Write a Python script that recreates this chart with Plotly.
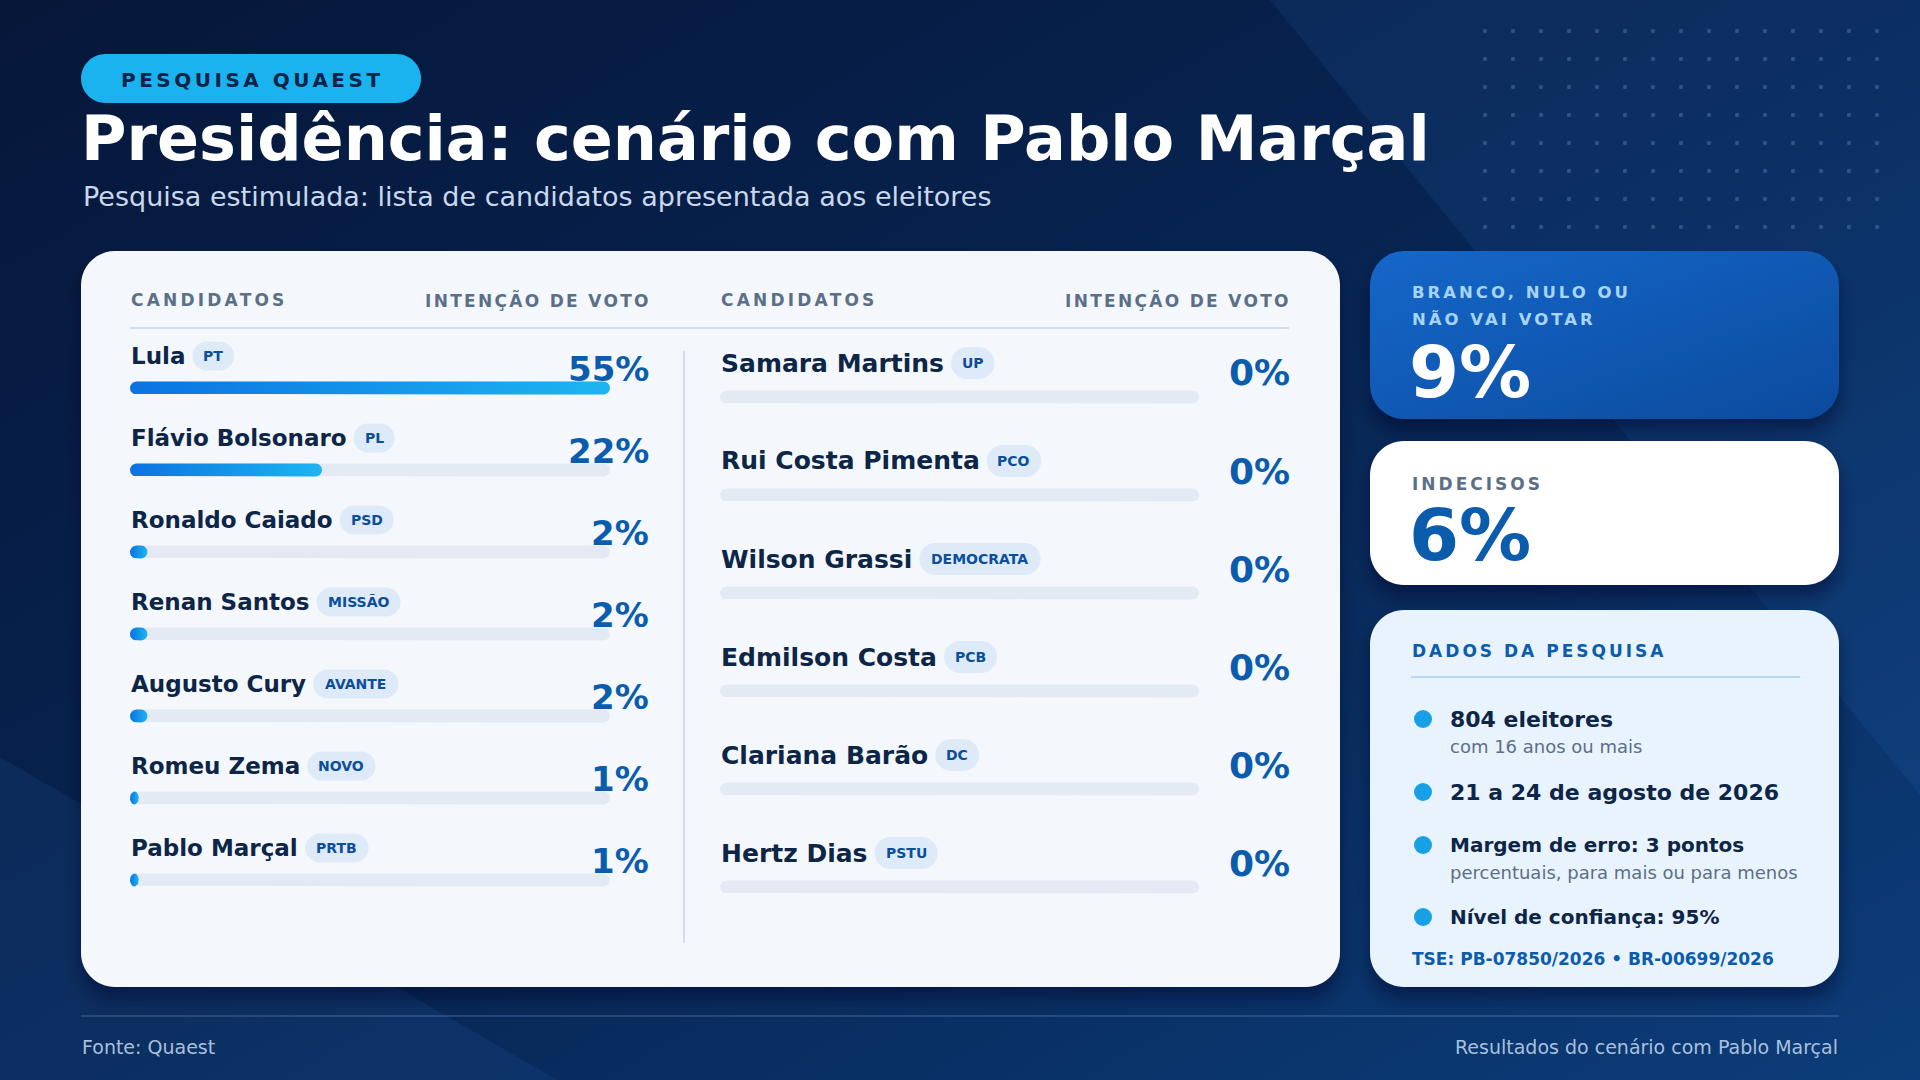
import base64
import unicodedata
import numpy as np
import plotly.graph_objects as go

W, H = 1920, 1080
FONTE = "DejaVu Sans"

# ---- dados da pesquisa ----
candidatos_esq = ["Lula", "Flávio Bolsonaro", "Ronaldo Caiado", "Renan Santos",
                  "Augusto Cury", "Romeu Zema", "Pablo Marçal"]
partidos_esq = ["PT", "PL", "PSD", "MISSÃO", "AVANTE", "NOVO", "PRTB"]
votos_esq = [55, 22, 2, 2, 2, 1, 1]

candidatos_dir = ["Samara Martins", "Rui Costa Pimenta", "Wilson Grassi",
                  "Edmilson Costa", "Clariana Barão", "Hertz Dias"]
partidos_dir = ["UP", "PCO", "DEMOCRATA", "PCB", "DC", "PSTU"]
votos_dir = [0, 0, 0, 0, 0, 0]

branco_nulo = 9
indecisos = 6

dados_titulo = ["804 eleitores", "21 a 24 de agosto de 2026",
                "Margem de erro: 3 pontos", "Nível de confiança: 95%"]
dados_sub = ["com 16 anos ou mais", "", "percentuais, para mais ou para menos", ""]
registro_tse = "TSE: PB-07850/2026 • BR-00699/2026"

# ---- cores ----
AZUL_ESCURO = "#0d2547"
AZUL_NUM = "#0b5cad"
CINZA = "#5b6f88"
TRILHA = "#e3eaf3"
GRADIENTE = [[0, "#0b73e1"], [1, "#1db5f1"]]
PILULA = "#dfeaf8"
PILULA_TXT = "#0b4e9a"

# larguras aproximadas da DejaVu Sans Bold (em)
LARG = dict(zip("abcdefghijklmnopqrstuvwxyz",
                [.675, .716, .593, .716, .678, .435, .716, .712, .343, .343, .665, .343, 1.042,
                 .712, .687, .716, .716, .493, .595, .478, .712, .652, .924, .645, .652, .582]))
LARG.update(zip("ABCDEFGHIJKLMNOPQRSTUVWXYZ",
                [.774, .762, .734, .830, .683, .683, .821, .837, .372, .372, .775, .637, .995,
                 .837, .850, .733, .850, .770, .720, .682, .812, .774, 1.103, .771, .724, .725]))
LARG[" "] = .348


def largura(s, tam):
    return sum(LARG.get(unicodedata.normalize("NFD", c)[0], .7) for c in s) * tam


def X(x):
    return x / W


def Y(y):
    return 1 - y / H


def caixa(x0, y0, x1, y1, r):
    k = 0.5523 * r
    pts = [("M", x0 + r, y0), ("L", x1 - r, y0),
           ("C", x1 - r + k, y0, x1, y0 + r - k, x1, y0 + r), ("L", x1, y1 - r),
           ("C", x1, y1 - r + k, x1 - r + k, y1, x1 - r, y1), ("L", x0 + r, y1),
           ("C", x0 + r - k, y1, x0, y1 - r + k, x0, y1 - r), ("L", x0, y0 + r),
           ("C", x0, y0 + r - k, x0 + r - k, y0, x0 + r, y0)]
    out = ""
    for p in pts:
        nums = p[1:]
        coords = " ".join(f"{X(nums[i]):.5f},{Y(nums[i + 1]):.5f}" for i in range(0, len(nums), 2))
        out += p[0] + coords + " "
    return out + "Z"


shapes = []
anns = []


def ret(x0, y0, x1, y1, r, cor):
    shapes.append(dict(type="path", path=caixa(x0, y0, x1, y1, r), xref="paper", yref="paper",
                       fillcolor=cor, line=dict(width=0), layer="below"))


def linha(x0, y0, x1, y1, cor, w=2):
    shapes.append(dict(type="line", x0=X(x0), y0=Y(y0), x1=X(x1), y1=Y(y1), xref="paper",
                       yref="paper", line=dict(color=cor, width=w), layer="below"))


def texto(x, y, s, tam, cor, negrito=False, ancora="left", espaco=None):
    if espaco:
        s = f"<span style='letter-spacing:{espaco}px'>{s}</span>"
    anns.append(dict(x=X(x), y=Y(y), xref="paper", yref="paper", text=s, showarrow=False,
                     xanchor=ancora, yanchor="middle", borderpad=0,
                     font=dict(family=FONTE, size=tam, color=cor, weight=700 if negrito else 400)))


# ---- fundo (gradiente, faixas, pontos, sombras) ----
pontos = "".join(f"<circle cx='{1485 + 28 * c}' cy='{31 + 28 * r}' r='2.2'/>"
                 for c in range(15) for r in range(8))
sombras = "".join(f"<rect x='{a}' y='{b + 12}' width='{c - a}' height='{d - b}' rx='34'/>"
                  for a, b, c, d in [(81, 251, 1340, 987), (1370, 251, 1839, 419),
                                     (1370, 441, 1839, 585), (1370, 610, 1839, 987)])
svg = f"""<svg xmlns='http://www.w3.org/2000/svg' width='{W}' height='{H}' viewBox='0 0 {W} {H}'>
<defs>
<linearGradient id='bg' x1='0' y1='0' x2='1' y2='1'>
<stop offset='0' stop-color='#06173a'/><stop offset='0.5' stop-color='#072553'/>
<stop offset='1' stop-color='#0c3d7a'/></linearGradient>
<linearGradient id='c1' x1='0' y1='0' x2='1' y2='1'>
<stop offset='0' stop-color='#1567c9'/><stop offset='1' stop-color='#0b4b9e'/></linearGradient>
<filter id='sh' x='-10%' y='-10%' width='120%' height='130%'><feGaussianBlur stdDeviation='9'/></filter>
</defs>
<rect width='{W}' height='{H}' fill='url(#bg)'/>
<polygon points='1270,0 1920,0 1920,795' fill='#2f74c8' fill-opacity='0.13'/>
<polygon points='0,757 557,1080 0,1080' fill='#2f74c8' fill-opacity='0.12'/>
<g fill='#7fa6d6' fill-opacity='0.3'>{pontos}</g>
<g fill='#010a1e' fill-opacity='0.45' filter='url(#sh)'>{sombras}</g>
<rect x='1370' y='251' width='469' height='168' rx='34' fill='url(#c1)'/>
</svg>"""
fundo = "data:image/svg+xml;base64," + base64.b64encode(svg.encode("utf-8")).decode()

# ---- cartões ----
ret(81, 251, 1340, 987, 34, "#f4f8fd")
ret(1370, 441, 1839, 585, 34, "#ffffff")
ret(1370, 610, 1839, 987, 34, "#e8f3fd")

# ---- cabeçalho ----
ret(81, 54, 421, 103, 24.5, "#1ab3f0")
texto(120, 80, "PESQUISA QUAEST", 20, "#0a2448", True, espaco=3.5)
texto(80, 138, "Presidência: cenário com Pablo Marçal", 62, "white", True)
texto(82, 197, "Pesquisa estimulada: lista de candidatos apresentada aos eleitores", 27, "#c9d8ec")

# ---- tabela ----
texto(130, 300, "CANDIDATOS", 17, CINZA, True, espaco=3.2)
texto(652, 300, "INTENÇÃO DE VOTO", 17, CINZA, True, "right", espaco=2.3)
texto(720, 300, "CANDIDATOS", 17, CINZA, True, espaco=3.2)
texto(1292, 300, "INTENÇÃO DE VOTO", 17, CINZA, True, "right", espaco=2.3)
linha(130, 328, 1289, 328, "#d3deea", 2)
linha(684, 351, 684, 943, "#d3deea", 2)

ESQ_Y0, ESQ_DY = 388, 82
DIR_Y0, DIR_DY = 397, 98
ESQ_X0, ESQ_X1 = 130, 610
DIR_X0, DIR_X1 = 720, 1199
ESPESSURA = 13


def coluna(nomes, partidos, votos, x_nome, x_pct, y0, dy, tam_nome, tam_pct, alt_pil,
           d_nome, d_pct):
    for i, (n, p, v) in enumerate(zip(nomes, partidos, votos)):
        yb = y0 + i * dy
        texto(x_nome, yb - d_nome, n, tam_nome, AZUL_ESCURO, True)
        px0 = x_nome + largura(n, tam_nome) + 8
        pw = largura(p, 14) + 22
        ret(px0, yb - d_nome - alt_pil / 2, px0 + pw, yb - d_nome + alt_pil / 2, alt_pil / 2, PILULA)
        texto(px0 + pw / 2, yb - d_nome, p, 14, PILULA_TXT, True, "center")
        texto(x_pct, yb - d_pct, f"{v}%", tam_pct, AZUL_NUM, True, "right")


coluna(candidatos_esq, partidos_esq, votos_esq, ESQ_X0, 650, ESQ_Y0, ESQ_DY, 23, 34, 29, 32, 19)
coluna(candidatos_dir, partidos_dir, votos_dir, DIR_X0, 1291, DIR_Y0, DIR_DY, 25, 36, 32, 34, 24)

# ---- barras ----
vmax = max(votos_esq + votos_dir)
fig = go.Figure()
ang = np.linspace(-np.pi / 2, np.pi / 2, 16)


def barra_arredondada(v, pos, rx, ry):
    # contorno em unidades do eixo, com pontas em semicírculo
    rx = min(rx, v / 2)
    xs = np.concatenate([v - rx + rx * np.cos(ang), rx - rx * np.cos(ang), [v - rx]])
    ys = np.concatenate([pos + ry * np.sin(ang), pos - ry * np.sin(ang), [pos - ry]])
    return xs, ys


for nomes, votos, eixo, dy, x0, x1 in [(candidatos_esq, votos_esq, "", ESQ_DY, ESQ_X0, ESQ_X1),
                                       (candidatos_dir, votos_dir, "2", DIR_DY, DIR_X0, DIR_X1)]:
    posicoes = list(range(len(nomes)))
    ry = ESPESSURA / dy / 2
    rx = (ESPESSURA / 2) * vmax / (x1 - x0)
    for pos in posicoes:
        xs, ys = barra_arredondada(vmax, pos, rx, ry)
        fig.add_trace(go.Scatter(x=xs, y=ys, mode="lines", fill="toself", fillcolor=TRILHA,
                                 line=dict(width=0), xaxis="x" + eixo, yaxis="y" + eixo,
                                 hoverinfo="skip"))
    for pos, nome, v in zip(posicoes, nomes, votos):
        if v <= 0:
            continue
        xs, ys = barra_arredondada(v, pos, rx, ry)
        fig.add_trace(go.Scatter(x=xs, y=ys, mode="lines", fill="toself",
                                 fillgradient=dict(type="horizontal", colorscale=GRADIENTE),
                                 line=dict(width=0), xaxis="x" + eixo, yaxis="y" + eixo,
                                 name=nome, hoverinfo="name"))


def eixo_y(nomes, y0, dy):
    topo = y0 - dy / 2
    base = y0 + (len(nomes) - 0.5) * dy
    return dict(domain=[Y(base), Y(topo)], range=[len(nomes) - 0.5, -0.5],
                visible=False, fixedrange=True)


# ---- cartões laterais ----
texto(1411, 292, "BRANCO, NULO OU", 16.5, "#a7d4f8", True, espaco=3)
texto(1411, 319, "NÃO VAI VOTAR", 16.5, "#a7d4f8", True, espaco=3)
texto(1408, 372, f"{branco_nulo}%", 72, "white", True)
texto(1411, 484, "INDECISOS", 17, CINZA, True, espaco=3)
texto(1408, 535, f"{indecisos}%", 72, AZUL_NUM, True)

texto(1411, 651, "DADOS DA PESQUISA", 17, AZUL_NUM, True, espaco=3)
linha(1411, 677, 1800, 677, "#b9d6f2", 2)
ys_dados = [719, 792, 845, 917]
tams_dados = [22, 22, 20, 20]
for yd, t, s, tm in zip(ys_dados, dados_titulo, dados_sub, tams_dados):
    shapes.append(dict(type="circle", xref="paper", yref="paper", x0=X(1414), x1=X(1432),
                       y0=Y(yd - 9), y1=Y(yd + 9), fillcolor="#18a0e6", line=dict(width=0),
                       layer="below"))
    texto(1449, yd, t, tm, AZUL_ESCURO, True)
    if s:
        texto(1449, yd + 27, s, 18, CINZA)
texto(1411, 959, registro_tse, 17, AZUL_NUM, True)

# ---- rodapé ----
linha(81, 1016, 1839, 1016, "rgba(160,190,230,0.25)", 1.5)
texto(81, 1047, "Fonte: Quaest", 19, "#a8c0de")
texto(1839, 1047, "Resultados do cenário com Pablo Marçal", 19, "#a8c0de", ancora="right")

fig.update_layout(
    width=W, height=H,
    margin=dict(l=0, r=0, t=0, b=0),
    paper_bgcolor="#071b3b",
    plot_bgcolor="rgba(0,0,0,0)",
    showlegend=False,
    xaxis=dict(domain=[X(ESQ_X0), X(ESQ_X1)], range=[0, vmax], visible=False, fixedrange=True),
    yaxis=eixo_y(candidatos_esq, ESQ_Y0, ESQ_DY),
    xaxis2=dict(domain=[X(DIR_X0), X(DIR_X1)], range=[0, vmax], visible=False, fixedrange=True,
                anchor="y2"),
    yaxis2=eixo_y(candidatos_dir, DIR_Y0, DIR_DY) | dict(anchor="x2"),
    shapes=shapes,
    annotations=anns,
    images=[dict(source=fundo, xref="paper", yref="paper", x=0, y=1, sizex=1, sizey=1,
                 xanchor="left", yanchor="top", sizing="stretch", layer="below")],
)

fig.write_html("out.html", config={"displayModeBar": False},
               post_script="document.body.style.margin='0';")
